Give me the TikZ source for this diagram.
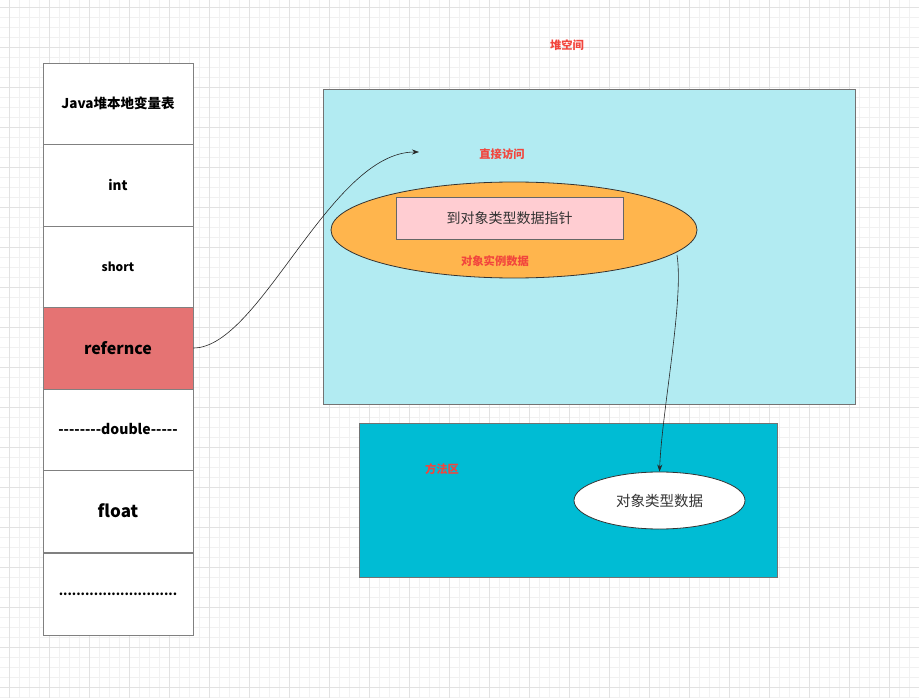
\documentclass[tikz,border=0pt]{standalone}
\usepackage{fontspec}
\setmainfont{Noto Sans CJK SC}
\usetikzlibrary{arrows.meta,shapes.geometric}
\definecolor{gridminor}{HTML}{F1F1F1}
\definecolor{gridmajor}{HTML}{E2E2E2}
\definecolor{cellborder}{HTML}{808080}
\definecolor{reffill}{HTML}{E57373}
\definecolor{heapfill}{HTML}{B2EBF2}
\definecolor{methodfill}{HTML}{00BCD4}
\definecolor{orangefill}{HTML}{FFB54D}
\definecolor{pinkfill}{HTML}{FFCDD2}
\definecolor{redtext}{HTML}{F2453D}
\definecolor{darktext}{HTML}{333333}
\newcommand\dsh{-\kern0pt}
\begin{document}
\begin{tikzpicture}[x=1pt,y=-1pt,
  cell/.style={draw=cellborder, line width=0.8pt, fill=white, minimum width=150pt, inner sep=0pt, font=\bfseries, text=black},
  area/.style={draw=cellborder!90!black, line width=0.8pt, inner sep=0pt},
  redlabel/.style={text=redtext, font=\bfseries\fontsize{11.3}{13}\selectfont, inner sep=0pt},
  conn/.style={draw=black!85, line width=0.6pt, -{Stealth[length=7pt,width=5pt]}}]
\useasboundingbox (0,0) rectangle (919,698);
\fill[white] (0,0) rectangle (919,698);
% grid
\foreach \x in {9,19,...,919} \draw[gridminor, line width=0.6pt] (\x,0) -- (\x,698);
\foreach \y in {7,17,...,698} \draw[gridminor, line width=0.6pt] (0,\y) -- (919,\y);
\foreach \x in {9,49,...,919} \draw[gridmajor, line width=0.8pt] (\x,0) -- (\x,698);
\foreach \y in {7,47,...,698} \draw[gridmajor, line width=0.8pt] (0,\y) -- (919,\y);

% left stack
\node[cell, minimum height=81pt] (c1) at (118,103.5) {\fontsize{13.5}{15}\selectfont Java堆本地变量表};
\node[cell, minimum height=82pt] (c2) at (118,185) {\fontsize{13.5}{15}\selectfont int};
\node[cell, minimum height=81pt] (c3) at (118,266.5) {\fontsize{12}{13}\selectfont short};
\node[cell, minimum height=82pt, fill=reffill] (c4) at (118,348) {\fontsize{16}{19}\selectfont refernce};
\node[cell, minimum height=81pt] (c5) at (118,429.5) {\fontsize{14}{16}\selectfont \dsh\dsh\dsh\dsh\dsh\dsh\dsh\dsh double\dsh\dsh\dsh\dsh\dsh};
\node[cell, minimum height=82pt] (c6) at (118,511) {\fontsize{17}{19}\selectfont float};
\node[cell, minimum height=82pt] (c7) at (118,594) {\fontsize{12.5}{16}\selectfont ...........................};

% heap space
\node[redlabel] (heaplabel) at (567,45) {堆空间};
\node[area, fill=heapfill, minimum width=532pt, minimum height=315pt] (heap) at (589,246.5) {};
\node[redlabel] (direct) at (502,154) {直接访问};
\node[ellipse, draw=black!80, line width=0.8pt, fill=orangefill, minimum width=366pt, minimum height=96pt, inner sep=0pt] (inst) at (514,230) {};
\node[draw=cellborder!80!black, line width=0.8pt, fill=pinkfill, minimum width=227pt, minimum height=42pt, inner sep=0pt, text=darktext, font=\fontsize{14}{16}\selectfont] (ptr) at (509.5,218) {到对象类型数据指针};
\node[redlabel] (instlabel) at (495,261) {对象实例数据};

% method area
\node[area, fill=methodfill, minimum width=418pt, minimum height=154pt] (method) at (568,500) {};
\node[redlabel] (methodlabel) at (442,469) {方法区};
\node[ellipse, draw=black!80, line width=0.8pt, fill=white, minimum width=171pt, minimum height=57pt, inner sep=0pt, text=darktext, font=\fontsize{14.5}{16}\selectfont] (typedata) at (659.5,500.5) {对象类型数据};

% connectors
\coordinate (directend) at (419,152);
\draw[conn] (c4.east) .. controls (260,348) and (330,152) .. (directend);
\coordinate (inststart) at (677,255);
\draw[conn] (inststart) .. controls (684,300) and (662,410) .. (typedata.north);
\end{tikzpicture}
\end{document}
